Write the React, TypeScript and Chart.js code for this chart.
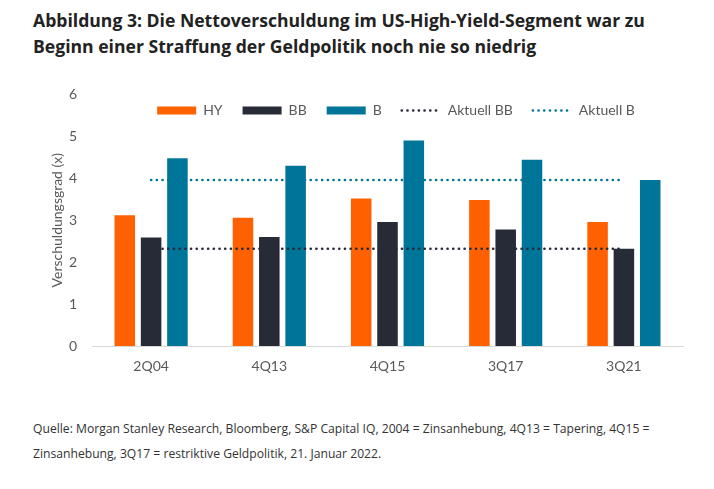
import React, { useEffect, useRef } from "react";
import { Chart, registerables } from "chart.js";

Chart.register(...registerables);

const categories = ["2Q04", "4Q13", "4Q15", "3Q17", "3Q21"];
const hyValues = [3.12, 3.06, 3.52, 3.48, 2.96];
const bbValues = [2.59, 2.6, 2.96, 2.78, 2.32];
const bValues = [4.48, 4.3, 4.9, 4.44, 3.96];
const aktuellBB = [2.32, 2.32, 2.32, 2.32, 2.32];
const aktuellB = [3.96, 3.96, 3.96, 3.96, 3.96];
const yTicks = [0, 1, 2, 3, 4, 5, 6];

const ORANGE = "#FF6000";
const NAVY = "#272A37";
const TEAL = "#00759A";
const TEXT = "#595959";

const CANVAS_TOP = 71;

export default function App() {
  const ref = useRef<HTMLCanvasElement | null>(null);

  useEffect(() => {
    if (!ref.current) return;
    const legendPlacer = {
      id: "legendPlacer",
      beforeInit(chart: any) {
        const lg = chart.legend;
        if (!lg) return;
        const orig = lg.fit;
        lg.fit = function () {
          orig.call(this);
          this.height = 0;
        };
      },
      afterLayout(chart: any) {
        const lg = chart.legend;
        if (!lg) return;
        const cx = 351;
        lg.left = cx - 320;
        lg.right = cx + 320;
        lg.width = 640;
        lg.top = 83.5 - CANVAS_TOP;
        lg.bottom = lg.top + 42;
        lg.height = 42;
      },
    };

    const chart = new Chart(ref.current, {
      type: "bar",
      data: {
        labels: categories,
        datasets: [
          { label: "HY", data: hyValues, backgroundColor: ORANGE, order: 1 },
          { label: "BB", data: bbValues, backgroundColor: NAVY, order: 1 },
          { label: "B", data: bValues, backgroundColor: TEAL, order: 1 },
          {
            type: "line",
            label: "Aktuell BB",
            data: aktuellBB,
            borderColor: NAVY,
            backgroundColor: "transparent",
            borderWidth: 2.6,
            borderDash: [0.1, 5.6],
            borderCapStyle: "round",
            pointRadius: 0,
            fill: false,
            order: 0,
          } as any,
          {
            type: "line",
            label: "Aktuell B",
            data: aktuellB,
            borderColor: TEAL,
            backgroundColor: "transparent",
            borderWidth: 2.6,
            borderDash: [0.1, 5.6],
            borderCapStyle: "round",
            pointRadius: 0,
            fill: false,
            order: 0,
          } as any,
        ],
      },
      options: {
        animation: false,
        responsive: true,
        maintainAspectRatio: false,
        layout: { padding: { top: 5, right: 17, bottom: 4, left: 0 } },
        datasets: {
          bar: { categoryPercentage: 0.668, barPercentage: 0.78 },
        } as any,
        plugins: {
          tooltip: { enabled: false },
          legend: {
            display: true,
            position: "top",
            labels: {
              usePointStyle: true,
              pointStyleWidth: 39,
              boxHeight: 8,
              padding: 20,
              color: TEXT,
              font: { family: "Lato", size: 14 },
              generateLabels(chart: any) {
                return chart.data.datasets.map((ds: any, i: number) => {
                  const isLine = ds.type === "line";
                  return {
                    text: ds.label,
                    fillStyle: isLine ? "rgba(0,0,0,0)" : ds.backgroundColor,
                    strokeStyle: isLine ? ds.borderColor : ds.backgroundColor,
                    lineWidth: isLine ? 2.6 : 0,
                    lineDash: isLine ? [0.1, 5.6] : [],
                    lineCap: isLine ? "round" : "butt",
                    pointStyle: isLine ? "line" : "rect",
                    fontColor: TEXT,
                    hidden: false,
                    datasetIndex: i,
                  };
                });
              },
            },
          },
        },
        scales: {
          x: {
            grid: { display: false, drawTicks: false },
            border: { display: true, color: "#D9D9D9", width: 1 },
            ticks: { color: TEXT, font: { family: "Lato", size: 14 }, padding: 12 },
            afterFit(scale: any) {
              scale.height = 30;
            },
          },
          y: {
            min: 0,
            max: 6,
            grid: { display: false, drawTicks: false },
            border: { display: false },
            afterBuildTicks(scale: any) {
              scale.ticks = yTicks.map((v) => ({ value: v }));
            },
            ticks: { color: TEXT, font: { family: "Lato", size: 14 }, padding: 15 },
            title: {
              display: true,
              text: "Verschuldungsgrad (x)",
              color: TEXT,
              font: { family: "Lato", size: 14 },
              padding: { top: 4, bottom: 4 },
            },
            afterFit(scale: any) {
              scale.width = 47;
            },
          },
        },
      },
      plugins: [legendPlacer],
    });
    return () => chart.destroy();
  }, []);

  return (
    <div style={{ position: "absolute", left: 0, top: 0, width: 714, height: 489, background: "#fff" }}>
      <div
        style={{
          position: "absolute",
          left: 33,
          top: 7,
          width: 690,
          fontFamily: "'Open Sans', sans-serif",
          fontWeight: 700,
          fontSize: 17.6,
          lineHeight: "26px",
          color: "#222",
          whiteSpace: "nowrap",
        }}
      >
        Abbildung 3: Die Nettoverschuldung im US-High-Yield-Segment war zu
        <br />
        Beginn einer Straffung der Geldpolitik noch nie so niedrig
      </div>
      <div style={{ position: "absolute", left: 45, top: CANVAS_TOP, width: 655, height: 380 - CANVAS_TOP }}>
        <canvas ref={ref} />
      </div>
      <div
        style={{
          position: "absolute",
          left: 33,
          top: 416,
          width: 690,
          fontFamily: "'Open Sans', sans-serif",
          fontSize: 12.15,
          lineHeight: "25px",
          color: "#333",
          whiteSpace: "nowrap",
        }}
      >
        Quelle: Morgan Stanley Research, Bloomberg, S&amp;P Capital IQ, 2004 = Zinsanhebung, 4Q13 = Tapering, 4Q15 =
        <br />
        Zinsanhebung, 3Q17 = restriktive Geldpolitik, 21. Januar 2022.
      </div>
    </div>
  );
}
